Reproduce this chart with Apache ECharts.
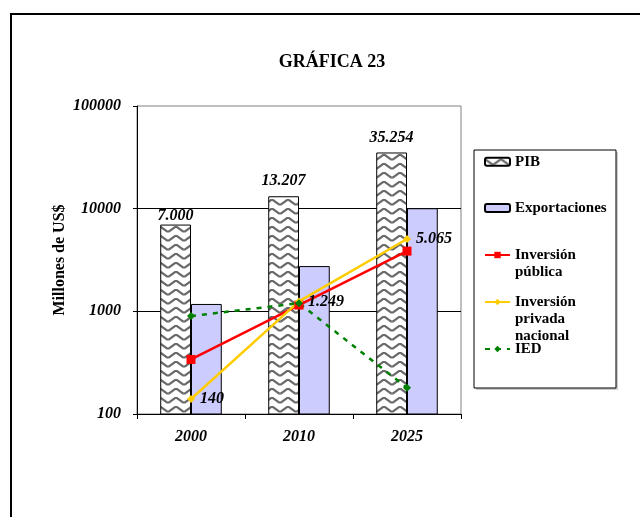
<!DOCTYPE html>
<html><head><meta charset="utf-8">
<script src="https://cdn.jsdelivr.net/npm/echarts@6/dist/echarts.min.js"></script>
<style>html,body{margin:0;padding:0;background:#fff}#c{width:640px;height:517px}</style>
</head><body><div id="c"></div>
<script>
const categories = ['2000', '2010', '2025'];
const pib = [7000, 13207, 35254];
const exportaciones = [1180, 2760, 10100];
const invPublica = [340, 1150, 3860];
const invPrivada = [140, 1249, 5065];
const ied = [900, 1200, 180];
const seriesNames = ['PIB', 'Exportaciones', 'Inversión\npública', 'Inversión\nprivada\nnacional', 'IED'];

const FONT = '"Liberation Serif", "DejaVu Serif", serif';

function fmt(v) {
  const s = String(Math.round(v));
  return s.replace(/\B(?=(\d{3})+(?!\d))/g, '.');
}

function makePattern() {
  const c = document.createElement('canvas');
  c.width = 16; c.height = 9;
  const g = c.getContext('2d');
  g.fillStyle = '#fff'; g.fillRect(0, 0, 16, 9);
  g.strokeStyle = '#6a6a6a'; g.lineWidth = 2.2;
  g.beginPath();
  g.moveTo(-2, 2); g.lineTo(1, 2); g.lineTo(7, 6.5); g.lineTo(9, 6.5); g.lineTo(15, 2); g.lineTo(18, 2);
  g.stroke();
  return c;
}

const chart = echarts.init(document.getElementById('c'), null, { renderer: 'canvas' });

const legendText = { fontFamily: FONT, fontWeight: 'bold', fontSize: 15, color: '#000', lineHeight: 17 };
function legendItem(name, top, blankLines, w, h) {
  return {
    data: [name], left: 484, top: top, orient: 'vertical', itemWidth: w, itemHeight: h,
    padding: 0, selectedMode: false, z: 10,
    formatter: n => '\n'.repeat(blankLines) + n,
    textStyle: legendText
  };
}

const option = {
  animation: false,
  backgroundColor: '#fff',
  title: {
    text: 'GRÁFICA 23', left: 327, top: 48, textAlign: 'center',
    textStyle: { fontFamily: FONT, fontWeight: 'bold', fontSize: 18, color: '#000' }
  },
  graphic: [
    { type: 'rect', z: -10, shape: { x: 11, y: 14, width: 700, height: 600 },
      style: { fill: 'none', stroke: '#000', lineWidth: 2 } },
    { type: 'rect', z: 1, shape: { x: 476, y: 152, width: 142, height: 238 },
      style: { fill: '#ccc', stroke: 'none' } },
    { type: 'rect', z: 2, shape: { x: 474, y: 150, width: 142, height: 238 },
      style: { fill: '#fff', stroke: '#000', lineWidth: 1 } }
  ],
  legend: [
    legendItem(seriesNames[0], 161.7 - 8.5, 0, 25, 8),
    legendItem(seriesNames[1], 208 - 8.5, 0, 25, 8),
    legendItem(seriesNames[2], 255 - 25.5, 1, 25, 8),
    legendItem(seriesNames[3], 302 - 42.5, 2, 25, 8),
    legendItem(seriesNames[4], 349 - 8.5, 0, 25, 8)
  ],
  grid: { left: 137, right: 179, top: 106, bottom: 103, show: true, borderColor: '#808080', borderWidth: 1, containLabel: false },
  xAxis: {
    type: 'category', data: categories,
    axisLine: { lineStyle: { color: '#000', width: 1 } },
    axisTick: { show: true, length: 5, lineStyle: { color: '#000' } },
    axisLabel: { margin: 15, fontFamily: FONT, fontWeight: 'bold', fontStyle: 'italic', fontSize: 16, color: '#000' }
  },
  yAxis: {
    type: 'log', logBase: 10, min: 100, max: 100000,
    name: 'Millones de US$', nameLocation: 'middle', nameGap: 69, nameRotate: 90, nameMoveOverlap: false,
    nameTextStyle: { fontFamily: FONT, fontWeight: 'bold', fontSize: 16, color: '#000' },
    axisLine: { show: true, lineStyle: { color: '#000', width: 1 } },
    axisTick: { show: true, length: 4, lineStyle: { color: '#000' } },
    axisLabel: { margin: 16, fontFamily: FONT, fontWeight: 'bold', fontStyle: 'italic', fontSize: 16, color: '#000',
      formatter: v => String(Math.round(v)) },
    splitLine: { show: true, showMinLine: false, showMaxLine: false, lineStyle: { color: '#000', width: 1 } }
  },
  series: [
    { name: seriesNames[0], type: 'bar', barGap: '0%', barCategoryGap: '43%',
      data: pib.map((v, i) => i === 0 ? { value: v, label: { distance: 1 } } : v),
      itemStyle: { color: { image: makePattern(), repeat: 'repeat' }, borderColor: '#000', borderWidth: 1 },
      label: { show: true, position: 'top', distance: 7, formatter: p => fmt(p.value),
        fontFamily: FONT, fontWeight: 'bold', fontStyle: 'italic', fontSize: 16, color: '#000' } },
    { name: seriesNames[1], type: 'bar', data: exportaciones,
      itemStyle: { color: '#CCCCFF', borderColor: '#000', borderWidth: 1 } },
    { name: seriesNames[2], type: 'line', data: invPublica, symbol: 'rect', symbolSize: 9,
      lineStyle: { color: '#FF0000', width: 2.5 }, itemStyle: { color: '#FF0000' } },
    { name: seriesNames[3], type: 'line', data: invPrivada, symbol: 'diamond', symbolSize: 8,
      lineStyle: { color: '#FFCC00', width: 2.5 }, itemStyle: { color: '#FFCC00' },
      label: { show: true, position: 'right', distance: 5, formatter: p => fmt(p.value),
        fontFamily: FONT, fontWeight: 'bold', fontStyle: 'italic', fontSize: 16, color: '#000' } },
    { name: seriesNames[4], type: 'line', data: ied, symbol: 'diamond', symbolSize: 8,
      lineStyle: { color: '#008000', width: 2.5, type: [5, 6] }, itemStyle: { color: '#008000' } }
  ]
};
chart.setOption(option);
</script>
</body></html>
